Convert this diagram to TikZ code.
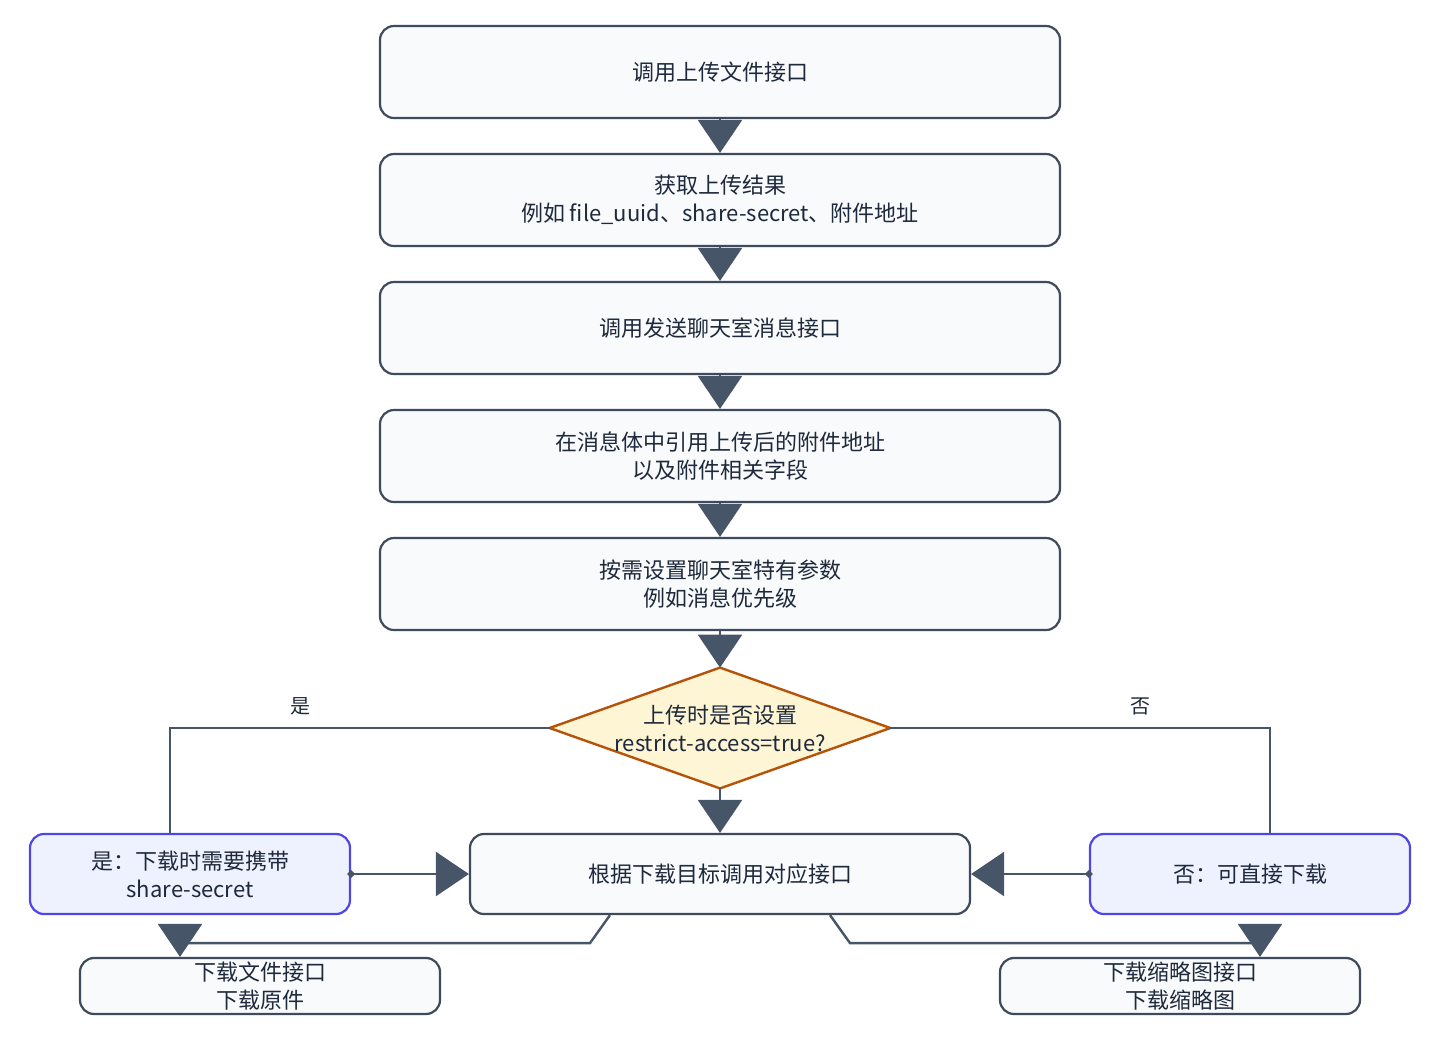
\documentclass[tikz,border=0pt]{standalone}
\usepackage{fontspec}
\setmainfont{Noto Sans CJK SC}
\usetikzlibrary{arrows.meta,backgrounds,calc}
\definecolor{boxfill}{HTML}{F8FAFC}
\definecolor{boxline}{HTML}{3F4A5C}
\definecolor{arrcol}{HTML}{475569}
\definecolor{txt}{HTML}{1E293B}
\definecolor{altfill}{HTML}{EEF2FF}
\definecolor{altline}{HTML}{4F46E5}
\definecolor{qfill}{HTML}{FEF5D4}
\definecolor{qline}{HTML}{B45309}
\tikzset{
  stepbox/.style={draw=boxline, fill=boxfill, line width=1.1pt, rounded corners=7pt,
    minimum width=340pt, minimum height=46pt, inner sep=0pt, align=center,
    text=txt, font=\fontsize{11pt}{14pt}\selectfont},
  altbox/.style={stepbox, draw=altline, fill=altfill, minimum width=160pt, minimum height=40pt},
  midbox/.style={stepbox, minimum width=250pt, minimum height=40pt},
  endbox/.style={stepbox, minimum width=180pt, minimum height=28pt},
  qbox/.style={minimum width=170pt, minimum height=60pt, inner sep=0pt, align=center,
    text=txt, font=\fontsize{11pt}{14pt}\selectfont},
  conn/.style={draw=arrcol, line width=1.2pt},
  arr/.style={conn, -{Triangle[width=22pt,length=16.5pt]}},
  sarr/.style={conn, {Diamond[width=4pt,length=4pt,sep=-2pt]}-{Triangle[width=22pt,length=16.5pt]}},
  lbl/.style={text=txt, font=\fontsize{10pt}{12pt}\selectfont, inner sep=0pt}
}
\begin{document}
\begin{tikzpicture}[x=0.5pt,y=-0.5pt]
\useasboundingbox (0,0) rectangle (1440,1040);
\node[stepbox] (b1) at (720,72) {调用上传文件接口};
\node[stepbox] (b2) at (720,200) {获取上传结果\\例如 file\_uuid、share-secret、附件地址};
\node[stepbox] (b3) at (720,328) {调用发送聊天室消息接口};
\node[stepbox] (b4) at (720,456) {在消息体中引用上传后的附件地址\\以及附件相关字段};
\node[stepbox] (b5) at (720,584) {按需设置聊天室特有参数\\例如消息优先级};
\node[qbox] (q) at (720,728) {上传时是否设置\\restrict-access=true?};
\begin{scope}[on background layer]
  \draw[fill=qfill, draw=qline, line width=1.2pt, line join=miter]
    (q.west) -- (q.north) -- (q.east) -- (q.south) -- cycle;
\end{scope}
\node[midbox] (m) at (720,874) {根据下载目标调用对应接口};
\node[altbox] (L) at (190,874) {是：下载时需要携带\\share-secret};
\node[altbox] (R) at (1250,874) {否：可直接下载};
\node[endbox] (d1) at (260,986) {下载文件接口\\下载原件};
\node[endbox] (d2) at (1180,986) {下载缩略图接口\\下载缩略图};

\draw[arr] (b1) -- (b2);
\draw[arr] (b2) -- (b3);
\draw[arr] (b3) -- (b4);
\draw[arr] (b4) -- (b5);
\draw[arr] (b5) -- (q.north);
\draw[arr] (q.south) -- (m.north);
\draw[conn] (q.west) -| ($(L.north)+(-20,0)$);
\draw[conn] (q.east) -| ($(R.north)+(20,0)$);
\node[lbl] (ly) at (300,706) {是};
\node[lbl] (ln) at (1140,706) {否};
\draw[sarr] (L.east) -- (m.west);
\draw[sarr] (R.west) -- (m.east);
\draw[arr] ($(m.south)+(-110,0)$) -- ++(-20,28) -| ($(d1.north)+(-80,0)$);
\draw[arr] ($(m.south)+(110,0)$) -- ++(20,28) -| ($(d2.north)+(80,0)$);
\end{tikzpicture}
\end{document}
